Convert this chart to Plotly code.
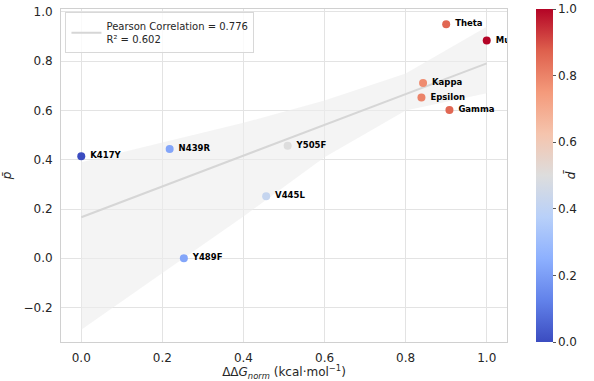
import numpy as np
import plotly.graph_objects as go

# Data
labels = ["K417Y", "N439R", "Y505F", "V445L", "Y489F", "Theta", "Mu", "Kappa", "Epsilon", "Gamma"]
ddg_norm = [0.0, 0.218, 0.509, 0.456, 0.253, 0.900, 1.0, 0.843, 0.839, 0.908]
p_bar = [0.414, 0.444, 0.457, 0.252, 0.0, 0.950, 0.884, 0.712, 0.653, 0.602]
d_bar = [0.0, 0.22, 0.50, 0.42, 0.22, 0.86, 1.0, 0.78, 0.80, 0.86]

# Confidence band edges (bootstrap CI)
band_x = [0.0, 0.2, 0.4, 0.6, 0.8, 1.0]
band_upper = [0.39, 0.47, 0.55, 0.64, 0.75, 0.94]
band_lower = [-0.29, -0.06, 0.17, 0.41, 0.60, 0.67]

legend_text = ["Pearson Correlation = 0.776", "R² = 0.602"]

coolwarm = [
    [0.0, "#3b4cc0"], [0.125, "#6282ea"], [0.25, "#8db0fe"], [0.375, "#b8d0f9"],
    [0.5, "#dddddd"], [0.625, "#f5c4ad"], [0.75, "#f49a7b"], [0.875, "#de604d"],
    [1.0, "#b40426"],
]

x = np.array(ddg_norm)
y = np.array(p_bar)
slope, intercept = np.polyfit(x, y, 1)
line_x = np.array([x.min(), x.max()])
line_y = slope * line_x + intercept

FONT = "DejaVu Sans"

fig = go.Figure()

fig.add_trace(go.Scatter(
    x=band_x + band_x[::-1], y=band_upper + band_lower[::-1],
    fill="toself", fillcolor="rgba(236,236,236,0.6)", line=dict(width=0),
    mode="lines", hoverinfo="skip", showlegend=False,
))

fig.add_trace(go.Scatter(
    x=line_x, y=line_y, mode="lines",
    line=dict(color="#d6d6d6", width=2),
    name="<br>".join(legend_text), showlegend=True,
))

fig.add_trace(go.Scatter(
    x=ddg_norm, y=p_bar, mode="markers+text",
    text=[" " + s for s in labels], textposition="middle right",
    textfont=dict(family=FONT, size=8.5, color="black", weight="bold"),
    cliponaxis=True,
    marker=dict(
        size=8, color=d_bar, colorscale=coolwarm, cmin=0, cmax=1,
        line=dict(width=0),
        colorbar=dict(
            title=dict(text="<i>d̄</i>", side="right", font=dict(family=FONT, size=12)),
            x=1.064, xanchor="left", xpad=0, y=0.5, yanchor="middle",
            len=1.0, lenmode="fraction", ypad=0,
            thickness=17, outlinewidth=0,
            tickvals=[0.0, 0.2, 0.4, 0.6, 0.8, 1.0],
            ticktext=["0.0", "0.2", "0.4", "0.6", "0.8", "1.0"],
            ticks="outside", ticklen=3, tickcolor="#555555",
            tickfont=dict(family=FONT, size=12, color="#262626"),
        ),
    ),
    showlegend=False,
))

axis_common = dict(
    showgrid=True, gridcolor="#e3e3e3", gridwidth=1,
    zeroline=False, showline=True, linecolor="#d0d0d0", linewidth=1, mirror=True,
    ticks="outside", ticklen=5, tickcolor="rgba(0,0,0,0)",
    tickfont=dict(family=FONT, size=12, color="#262626"),
)

fig.update_layout(
    width=594, height=381,
    margin=dict(l=55, r=87, t=5, b=38),
    paper_bgcolor="white", plot_bgcolor="white",
    font=dict(family=FONT, color="#262626"),
    xaxis=dict(
        range=[-0.05, 1.05],
        tickvals=[0.0, 0.2, 0.4, 0.6, 0.8, 1.0],
        ticktext=["0.0", "0.2", "0.4", "0.6", "0.8", "1.0"],
        title=dict(text="ΔΔ<i>G</i><sub><i>norm</i></sub> (kcal·mol<sup>−1</sup>)",
                   font=dict(family=FONT, size=12), standoff=2),
        **axis_common,
    ),
    yaxis=dict(
        range=[-0.34, 1.012],
        tickvals=[-0.2, 0.0, 0.2, 0.4, 0.6, 0.8, 1.0],
        ticktext=["−0.2", "0.0", "0.2", "0.4", "0.6", "0.8", "1.0"],
        title=dict(text="<i>p̄</i>", font=dict(family=FONT, size=12), standoff=10),
        **axis_common,
    ),
    legend=dict(
        x=0.01, y=0.99, xanchor="left", yanchor="top",
        bgcolor="rgba(255,255,255,0.8)", bordercolor="#d8d8d8", borderwidth=1,
        font=dict(family=FONT, size=10, color="#262626"),
        itemwidth=30, tracegroupgap=0,
    ),
)

fig.write_html(
    "out.html",
    config={"displayModeBar": False},
    post_script="document.body.style.margin='0';document.body.style.padding='0';",
)
